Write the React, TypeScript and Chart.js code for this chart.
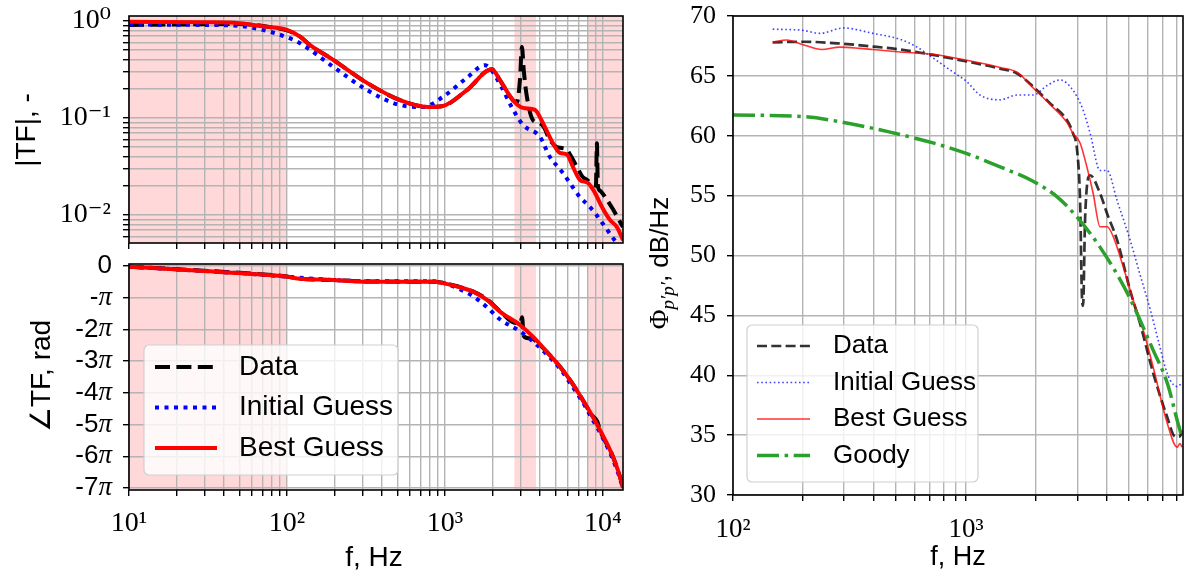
import React, { useEffect, useRef } from "react";
import { Chart, registerables } from "chart.js";

Chart.register(...registerables);

const SANS = "'Liberation Sans', Arial, 'DejaVu Sans', sans-serif";
const SERIF = "'Liberation Serif', 'DejaVu Serif', serif";
const GRID = "#b4b4b4";

// ---------- Left top: |TF| (magnitude) ----------
const magDataF = [10, 20, 50, 80, 100, 121, 140, 195, 321, 519, 780, 971, 1377, 1982, 2228, 2692, 2856, 2985, 3070, 3160, 3302, 3606, 3880, 4200, 4600, 5115, 5500, 5916, 6300, 6846, 7400, 7920, 8600, 9030, 9160, 9290, 9570, 10590, 11560, 12630, 13400];
const magDataV = [0.91, 0.92, 0.93, 0.86, 0.8, 0.69, 0.565, 0.4, 0.23, 0.153, 0.13, 0.133, 0.194, 0.318, 0.246, 0.153, 0.146, 0.25, 0.54, 0.3, 0.165, 0.095, 0.09, 0.082, 0.06, 0.05, 0.049, 0.047, 0.04, 0.0313, 0.025, 0.023, 0.0205, 0.02, 0.055, 0.02, 0.0178, 0.0144, 0.0115, 0.0089, 0.0075];
const magInitF = [10, 30, 50, 70, 100, 121, 195, 321, 519, 726, 971, 1377, 1791, 2300, 2577, 3119, 3993, 4600, 5500, 6180, 7150, 8030, 8900, 10590, 11560, 13400];
const magInitV = [0.92, 0.91, 0.89, 0.81, 0.68, 0.59, 0.34, 0.194, 0.136, 0.13, 0.165, 0.26, 0.35, 0.204, 0.14, 0.085, 0.064, 0.04, 0.028, 0.0214, 0.0153, 0.0127, 0.0105, 0.0071, 0.0058, 0.0043];
const magBestF = [10, 30, 50, 75, 100, 121, 140, 195, 321, 519, 780, 971, 1377, 1982, 2228, 2692, 3119, 3715, 3993, 4826, 5350, 5916, 6457, 7150, 8030, 8900, 9860, 11080, 12270, 13400];
const magBestV = [0.98, 0.97, 0.95, 0.87, 0.81, 0.69, 0.565, 0.4, 0.23, 0.153, 0.13, 0.133, 0.194, 0.318, 0.246, 0.153, 0.127, 0.121, 0.102, 0.055, 0.0436, 0.042, 0.0313, 0.023, 0.0214, 0.0169, 0.0121, 0.0089, 0.0075, 0.0055];

// ---------- Left bottom: phase (in units of pi) ----------
const phDataF = [10, 28, 60, 100, 121, 195, 321, 840, 971, 1200, 1503, 1845, 2228, 2800, 3000, 3080, 3150, 3400, 3606, 4000, 4400, 5350, 6400, 7460, 8500, 9200, 9350, 9570, 11560, 13180, 13400];
const phDataV = [-0.02, -0.14, -0.24, -0.33, -0.4, -0.44, -0.49, -0.5, -0.53, -0.64, -0.8, -1.05, -1.42, -1.8, -1.8, -1.62, -2.2, -2.28, -2.3, -2.5, -2.7, -3.18, -3.7, -4.23, -4.7, -4.9, -5.0, -5.17, -6.01, -6.85, -7.0];
const phInitF = [10, 28, 60, 100, 195, 321, 840, 1000, 1200, 1503, 1845, 2228, 2985, 3606, 4400, 5350, 6400, 7460, 8500, 9570, 11560, 13180, 13400];
const phInitV = [-0.02, -0.15, -0.25, -0.34, -0.44, -0.48, -0.48, -0.55, -0.7, -0.95, -1.3, -1.68, -2.06, -2.38, -2.78, -3.24, -3.8, -4.3, -4.8, -5.25, -6.1, -6.9, -7.05];
const phBestF = [10, 28, 60, 100, 121, 195, 321, 840, 971, 1200, 1503, 1845, 2228, 2985, 3606, 4400, 5350, 6400, 7460, 8500, 9570, 11560, 13180, 13400];
const phBestV = [-0.02, -0.15, -0.25, -0.34, -0.4, -0.44, -0.5, -0.5, -0.54, -0.65, -0.81, -1.07, -1.44, -1.86, -2.23, -2.7, -3.18, -3.7, -4.23, -4.7, -5.17, -6.01, -6.85, -7.0];
const phaseTicks = [-7, -6, -5, -4, -3, -2, -1, 0];

// shaded frequency bands (left panels)
const bandStart = [10, 2750, 8000];
const bandEnd = [100, 3770, 13400];

// ---------- Right: PSD ----------
const psdDataF = [148, 200, 288, 399, 521, 721, 1009, 1400, 1656, 1940, 2296, 2712, 2877, 2995, 3085, 3147, 3178, 3243, 3408, 3757, 4029, 4446, 5056, 5585, 6350, 7300, 7890, 8280, 8450];
const psdDataV = [67.8, 67.85, 67.7, 67.45, 67.2, 66.75, 66.2, 65.6, 65.2, 64.1, 62.7, 61.3, 60.2, 58.8, 54.6, 46.3, 45.8, 53.2, 56.7, 55.2, 53.5, 51.3, 47.1, 44.3, 40.2, 36.5, 34.9, 34.9, 35.4];
const psdInitF = [148, 200, 236, 297, 399, 521, 617, 721, 853, 1009, 1148, 1400, 1656, 1940, 2230, 2532, 2877, 3178, 3408, 3757, 4029, 4446, 5056, 5600, 6170, 6700, 7200, 7510, 8054, 8450];
const psdInitV = [68.9, 68.8, 68.55, 69.0, 68.55, 68.05, 67.4, 66.5, 65.5, 64.5, 63.4, 63.0, 63.4, 63.4, 64.2, 64.66, 63.8, 62.15, 60.2, 57.1, 57.1, 54.6, 51.3, 48.3, 45.5, 42.8, 40.5, 39.6, 39.05, 39.35];
const psdBestF = [148, 170, 200, 240, 288, 350, 399, 521, 721, 1009, 1400, 1656, 1940, 2296, 2712, 2877, 3085, 3300, 3510, 3757, 4029, 4277, 4720, 5212, 5754, 6350, 7300, 8054, 8280, 8450];
const psdBestV = [67.8, 68.0, 67.6, 67.2, 67.4, 67.3, 67.2, 67.0, 66.8, 66.3, 65.7, 65.3, 64.0, 62.6, 61.1, 60.2, 59.4, 57.4, 55.2, 52.4, 52.4, 51.6, 49.1, 46.3, 43.8, 40.7, 36.0, 34.0, 34.3, 34.0];
const goodyF = [100, 200, 288, 472, 721, 1009, 1400, 1940, 2460, 2995, 3757, 4910, 6350, 7300, 8280, 8530];
const goodyV = [61.73, 61.6, 61.17, 60.3, 59.4, 58.5, 57.4, 56.2, 54.9, 53.2, 50.7, 46.9, 42.1, 39.35, 35.4, 34.7];

const legendLabels = ["Data", "Initial Guess", "Best Guess", "Goody"];

// ---------- helpers ----------
const SUP: Record<string, string> = { "0": "⁰", "1": "¹", "2": "²", "3": "³", "4": "⁴", "5": "⁵", "6": "⁶", "-": "⁻" };
const isPow10 = (v: number) => Math.abs(Math.log10(v) - Math.round(Math.log10(v))) < 1e-6;
const pow10Label = (v: number) => "10" + String(Math.round(Math.log10(v))).split("").map((c) => SUP[c]).join("");
const pts = (xs: number[], ys: number[]) => xs.map((x, i) => ({ x, y: ys[i] }));

function logTicks(min: number, max: number) {
  const out: { value: number; major: boolean }[] = [];
  for (let e = Math.floor(Math.log10(min)); e <= Math.ceil(Math.log10(max)); e++) {
    for (let m = 1; m <= 9; m++) {
      const v = parseFloat((m * Math.pow(10, e)).toPrecision(6));
      if (v >= min * 0.99999 && v <= max * 1.00001) out.push({ value: v, major: m === 1 });
    }
  }
  return out;
}

const zeroPad = (s: any) => {
  s.paddingTop = 0; s.paddingBottom = 0; s.paddingLeft = 0; s.paddingRight = 0;
};

const framePlugin = {
  id: "frame",
  afterDatasetsDraw(chart: any) {
    const { left, top, right, bottom } = chart.chartArea;
    const ctx = chart.ctx;
    ctx.save();
    ctx.strokeStyle = "#000";
    ctx.lineWidth = 1.6;
    ctx.strokeRect(left, top, right - left, bottom - top);
    ctx.restore();
  },
};

const bandsPlugin = {
  id: "bands",
  beforeDraw(chart: any) {
    const xs = chart.scales.x;
    const ca = chart.chartArea;
    const ctx = chart.ctx;
    ctx.save();
    ctx.fillStyle = "rgba(255, 0, 0, 0.15)";
    bandStart.forEach((s, i) => {
      const x0 = Math.max(ca.left, xs.getPixelForValue(s));
      const x1 = Math.min(ca.right, xs.getPixelForValue(bandEnd[i]));
      ctx.fillRect(x0, ca.top, x1 - x0, ca.bottom - ca.top);
    });
    ctx.restore();
  },
};

// phase tick labels: digits in sans, pi in italic serif (like mathtext)
const piLabelsPlugin = {
  id: "piLabels",
  afterDraw(chart: any) {
    const ys = chart.scales.y;
    const ctx = chart.ctx;
    const xr = ys.right - 6 - 11;
    ctx.save();
    ctx.fillStyle = "#000";
    ctx.textBaseline = "middle";
    ctx.textAlign = "left";
    ys.ticks.forEach((t: any) => {
      const v = t.value;
      const y = ys.getPixelForValue(v);
      const num = v === 0 ? "0" : v === -1 ? "-" : String(v);
      const fNum = `26px ${SANS}`;
      const fPi = `italic 27px ${SERIF}`;
      ctx.font = fNum;
      const wNum = ctx.measureText(num).width;
      ctx.font = fPi;
      const wPi = v === 0 ? 0 : ctx.measureText("π").width;
      let x = xr - wNum - wPi;
      ctx.font = fNum;
      ctx.fillText(num, x, y);
      if (v !== 0) {
        ctx.font = fPi;
        ctx.fillText("π", x + wNum, y);
      }
    });
    ctx.restore();
  },
};

function legendPlugin(cfg: { x: number; y: number; w: number; h: number; rows: number[]; sx0: number; sx1: number; tx: number; font: string }) {
  return {
    id: "mplLegend",
    afterDraw(chart: any) {
      const ctx = chart.ctx;
      ctx.save();
      ctx.beginPath();
      ctx.roundRect(cfg.x, cfg.y, cfg.w, cfg.h, 5);
      ctx.fillStyle = "rgba(255,255,255,0.8)";
      ctx.fill();
      ctx.strokeStyle = "#d0d0d0";
      ctx.lineWidth = 1.2;
      ctx.stroke();
      chart.data.datasets.forEach((ds: any, i: number) => {
        const y = cfg.rows[i];
        ctx.strokeStyle = ds.borderColor;
        ctx.lineWidth = ds.borderWidth;
        ctx.setLineDash(ds.borderDash || []);
        ctx.lineCap = "butt";
        ctx.beginPath();
        ctx.moveTo(cfg.sx0, y);
        ctx.lineTo(cfg.sx1, y);
        ctx.stroke();
        ctx.setLineDash([]);
        ctx.fillStyle = "#000";
        ctx.font = cfg.font;
        ctx.textAlign = "left";
        ctx.textBaseline = "middle";
        ctx.fillText(ds.label, cfg.tx, y);
      });
      ctx.restore();
    },
  };
}

function textPlugin(items: { text: string; x: number; y: number; rot: number; font: string }[]) {
  return {
    id: "texts",
    afterDraw(chart: any) {
      const ctx = chart.ctx;
      items.forEach((it) => {
        ctx.save();
        ctx.translate(it.x, it.y);
        ctx.rotate(it.rot);
        ctx.font = it.font;
        ctx.fillStyle = "#000";
        ctx.textAlign = "center";
        ctx.textBaseline = "middle";
        ctx.fillText(it.text, 0, 0);
        ctx.restore();
      });
    },
  };
}

const psdTitlePlugin = {
  id: "psdTitle",
  afterDraw(chart: any) {
    const ctx = chart.ctx;
    const parts = [
      { t: "Φ", font: `27px ${SERIF}`, dy: 0 },
      { t: "p′p′", font: `italic 19px ${SERIF}`, dy: 6 },
      { t: ", dB/Hz", font: `26px ${SANS}`, dy: 0 },
    ];
    let total = 0;
    const widths = parts.map((p) => {
      ctx.font = p.font;
      const w = ctx.measureText(p.t).width;
      total += w;
      return w;
    });
    ctx.save();
    ctx.translate(28, 263);
    ctx.rotate(-Math.PI / 2);
    ctx.fillStyle = "#000";
    ctx.textBaseline = "alphabetic";
    ctx.textAlign = "left";
    let x = -total / 2;
    parts.forEach((p, i) => {
      ctx.font = p.font;
      ctx.fillText(p.t, x, p.dy);
      x += widths[i];
    });
    ctx.restore();
  },
};

function logAxis(min: number, max: number, showLabels: boolean, size: number, pad: number, height: number) {
  return {
    type: "logarithmic",
    min,
    max,
    afterBuildTicks: (s: any) => { s.ticks = logTicks(min, max); },
    afterFit: (s: any) => { s.height = height; zeroPad(s); },
    border: { display: false },
    grid: { color: GRID, lineWidth: 1.4, tickColor: "#000", tickLength: 6, tickWidth: 1.4, drawTicks: true },
    ticks: {
      display: showLabels,
      autoSkip: false,
      maxRotation: 0,
      minRotation: 0,
      padding: pad,
      color: "#000",
      font: { family: SERIF, size },
      callback: (v: any) => (isPow10(Number(v)) ? pow10Label(Number(v)) : ""),
    },
  };
}

const baseOpts = (padding: any) => ({
  responsive: false,
  maintainAspectRatio: false,
  animation: false,
  events: [],
  layout: { padding },
  plugins: { legend: { display: false }, tooltip: { enabled: false } },
  elements: { point: { radius: 0 }, line: { cubicInterpolationMode: "monotone" } },
});

const line = (label: string, data: any, color: string, width: number, dash: number[], order: number) => ({
  label,
  data,
  borderColor: color,
  backgroundColor: color,
  borderWidth: width,
  borderDash: dash,
  borderCapStyle: "butt",
  borderJoinStyle: "round",
  pointRadius: 0,
  fill: false,
  order,
  clip: 0,
});

function cfgMag(): any {
  return {
    type: "line",
    data: {
      datasets: [
        line(legendLabels[0], pts(magDataF, magDataV), "#000000", 4, [15, 6.4], 2),
        line(legendLabels[1], pts(magInitF, magInitV), "#0000ff", 4, [4, 5.5], 1),
        line(legendLabels[2], pts(magBestF, magBestV), "#ff0000", 4, [], 0),
      ],
    },
    options: {
      ...baseOpts({ left: 0, right: 17, top: 16, bottom: 0 }),
      scales: {
        x: logAxis(10, 13400, false, 28, 10, 7),
        y: {
          type: "logarithmic",
          min: 0.00514,
          max: 1.126,
          afterBuildTicks: (s: any) => { s.ticks = logTicks(0.00514, 1.126); },
          afterFit: (s: any) => { s.width = 129; zeroPad(s); },
          border: { display: false },
          grid: { color: GRID, lineWidth: 1.4, tickColor: "#000", tickLength: 6, tickWidth: 1.4 },
          ticks: {
            autoSkip: false,
            padding: 12,
            color: "#000",
            font: { family: SERIF, size: 28 },
            callback: (v: any) => (isPow10(Number(v)) ? pow10Label(Number(v)) : ""),
          },
        },
      },
    },
    plugins: [bandsPlugin, framePlugin, textPlugin([{ text: "|TF|, -", x: 27, y: 130, rot: -Math.PI / 2, font: `28px ${SANS}` }])],
  };
}

function cfgPhase(): any {
  return {
    type: "line",
    data: {
      datasets: [
        line(legendLabels[0], pts(phDataF, phDataV), "#000000", 4, [15, 6.4], 2),
        line(legendLabels[1], pts(phInitF, phInitV), "#0000ff", 4, [4, 5.5], 1),
        line(legendLabels[2], pts(phBestF, phBestV), "#ff0000", 4, [], 0),
      ],
    },
    options: {
      ...baseOpts({ left: 0, right: 17, top: 14, bottom: 0 }),
      scales: {
        x: logAxis(10, 13400, true, 28, 11, 86),
        y: {
          type: "linear",
          min: -7.066,
          max: 0.063,
          afterBuildTicks: (s: any) => { s.ticks = phaseTicks.map((v) => ({ value: v })); },
          afterFit: (s: any) => { s.width = 129; zeroPad(s); },
          border: { display: false },
          grid: { color: GRID, lineWidth: 1.4, tickColor: "#000", tickLength: 6, tickWidth: 1.4 },
          ticks: { display: false },
        },
      },
    },
    plugins: [
      bandsPlugin,
      framePlugin,
      piLabelsPlugin,
      legendPlugin({ x: 144, y: 95, w: 254, h: 130, rows: [117, 157.5, 198], sx0: 155, sx1: 217, tx: 239, font: `28px ${SANS}` }),
      textPlugin([
        { text: "∠TF, rad", x: 42, y: 126, rot: -Math.PI / 2, font: `28px ${SANS}` },
        { text: "f, Hz", x: 374, y: 308, rot: 0, font: `28px ${SANS}` },
      ]),
    ],
  };
}

function cfgPsd(): any {
  return {
    type: "line",
    data: {
      datasets: [
        line(legendLabels[0], pts(psdDataF, psdDataV), "rgba(0,0,0,0.8)", 2.7, [10, 4.3], 2),
        line(legendLabels[1], pts(psdInitF, psdInitV), "rgba(0,0,255,0.75)", 1.6, [1.6, 2.6], 1),
        line(legendLabels[2], pts(psdBestF, psdBestV), "rgba(255,0,0,0.8)", 1.6, [], 0),
        line(legendLabels[3], pts(goodyF, goodyV), "#2ca02c", 3.5, [22, 5.6, 3.5, 5.6], -1),
      ],
    },
    options: {
      ...baseOpts({ left: 0, right: 14, top: 16, bottom: 0 }),
      scales: {
        x: logAxis(100, 8530, true, 27, 13, 81),
        y: {
          type: "linear",
          min: 30,
          max: 70,
          afterFit: (s: any) => { s.width = 93; zeroPad(s); },
          border: { display: false },
          grid: { color: GRID, lineWidth: 1.4, tickColor: "#000", tickLength: 6, tickWidth: 1.4 },
          ticks: {
            stepSize: 5,
            autoSkip: false,
            padding: 11,
            color: "#000",
            font: { family: SERIF, size: 26 },
          },
        },
      },
    },
    plugins: [
      framePlugin,
      legendPlugin({ x: 107, y: 325, w: 231, h: 157, rows: [346, 382.5, 419, 455.5], sx0: 117, sx1: 170, tx: 193, font: `26px ${SANS}` }),
      psdTitlePlugin,
      textPlugin([{ text: "f, Hz", x: 318, y: 558, rot: 0, font: `27px ${SANS}` }]),
    ],
  };
}

export default function App() {
  const r1 = useRef<HTMLCanvasElement>(null);
  const r2 = useRef<HTMLCanvasElement>(null);
  const r3 = useRef<HTMLCanvasElement>(null);
  useEffect(() => {
    const c1 = new Chart(r1.current as HTMLCanvasElement, cfgMag());
    const c2 = new Chart(r2.current as HTMLCanvasElement, cfgPhase());
    const c3 = new Chart(r3.current as HTMLCanvasElement, cfgPsd());
    return () => {
      c1.destroy();
      c2.destroy();
      c3.destroy();
    };
  }, []);
  return (
    <div style={{ position: "fixed", left: 0, top: 0, width: 1197, height: 576, background: "#fff", overflow: "hidden" }}>
      <canvas ref={r1} width={640} height={250} style={{ position: "absolute", left: 0, top: 0 }} />
      <canvas ref={r2} width={640} height={326} style={{ position: "absolute", left: 0, top: 250 }} />
      <canvas ref={r3} width={557} height={576} style={{ position: "absolute", left: 640, top: 0 }} />
    </div>
  );
}
